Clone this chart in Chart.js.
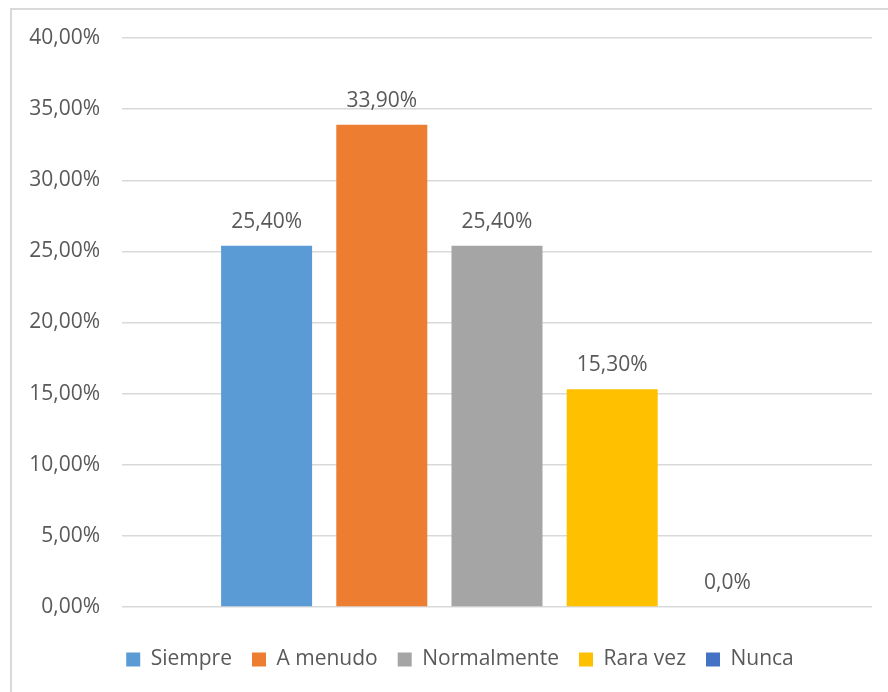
<!DOCTYPE html>
<html>
<head>
<meta charset="utf-8">
<script src="https://cdn.jsdelivr.net/npm/chart.js@4/dist/chart.umd.min.js"></script>
<style>
  html, body { margin: 0; padding: 0; background: #fff; overflow: hidden; }
  #wrap { position: relative; width: 888px; height: 692px; }
  #frame {
    position: absolute; left: 10px; top: 8px; width: 900px; height: 700px;
    border: 2px solid #d9d9d9; box-sizing: border-box;
  }
  canvas { position: absolute; left: 0; top: 0; }
</style>
</head>
<body>
<div id="wrap">
  <div id="frame"></div>
  <canvas id="chart" width="888" height="692"></canvas>
</div>
<script>
let seriesNames = ["Siempre", "A menudo", "Normalmente", "Rara vez", "Nunca"];
let seriesValues = [25.4, 33.9, 25.4, 15.3, 0];
let valueLabels = ["25,40%", "33,90%", "25,40%", "15,30%", "0,0%"];
let seriesColors = ["#5B9BD5", "#ED7D31", "#A5A5A5", "#FFC000", "#4472C4"];

let textColor = "#595959";
let fontFamily = "'Open Sans', sans-serif";
let fontSize = 21;

// one category, one dataset per answer so each gets its own legend entry
let datasets = seriesNames.map(function (name, i) {
  return {
    label: name,
    data: [seriesValues[i]],
    backgroundColor: seriesColors[i],
    borderWidth: 0,
    categoryPercentage: 0.768,
    barPercentage: 0.79
  };
});

// value text above each bar
let valueLabelPlugin = {
  id: "valueLabels",
  afterDatasetsDraw(chart) {
    let ctx = chart.ctx;
    ctx.save();
    ctx.font = fontSize + "px " + fontFamily;
    ctx.fillStyle = textColor;
    ctx.textAlign = "center";
    ctx.textBaseline = "alphabetic";
    chart.data.datasets.forEach(function (ds, i) {
      let bar = chart.getDatasetMeta(i).data[0];
      ctx.fillText(valueLabels[i], bar.x, bar.y - 18);
    });
    ctx.restore();
  }
};

// nudge the legend row a little to the right
let legendShift = {
  id: "legendShift",
  afterLayout(chart) {
    chart.legend.left += 48;
  }
};

let ctx = document.getElementById("chart").getContext("2d");
let chart = new Chart(ctx, {
  type: "bar",
  data: {
    labels: [""],
    datasets: datasets
  },
  plugins: [valueLabelPlugin, legendShift],
  options: {
    responsive: false,
    animation: false,
    layout: {
      padding: { left: 0, right: 16, top: 38, bottom: 12 }
    },
    plugins: {
      legend: {
        position: "bottom",
        labels: {
          color: textColor,
          font: { family: fontFamily, size: fontSize },
          boxWidth: 14,
          boxHeight: 14,
          padding: 20
        }
      },
      tooltip: { enabled: false }
    },
    scales: {
      x: {
        ticks: { display: false },
        grid: { display: false, drawTicks: false },
        border: { display: false },
        afterFit: function (scale) {
          scale.height = 22;
        }
      },
      y: {
        min: 0,
        max: 40,
        ticks: {
          stepSize: 5,
          color: textColor,
          padding: 22,
          font: { family: fontFamily, size: fontSize },
          callback: function (v) {
            return v.toFixed(2).replace(".", ",") + "%";
          }
        },
        grid: {
          color: "#d9d9d9",
          lineWidth: 1.5,
          drawTicks: false
        },
        border: { display: false },
        afterFit: function (scale) {
          scale.width = 122;
        }
      }
    }
  }
});
</script>
</body>
</html>
